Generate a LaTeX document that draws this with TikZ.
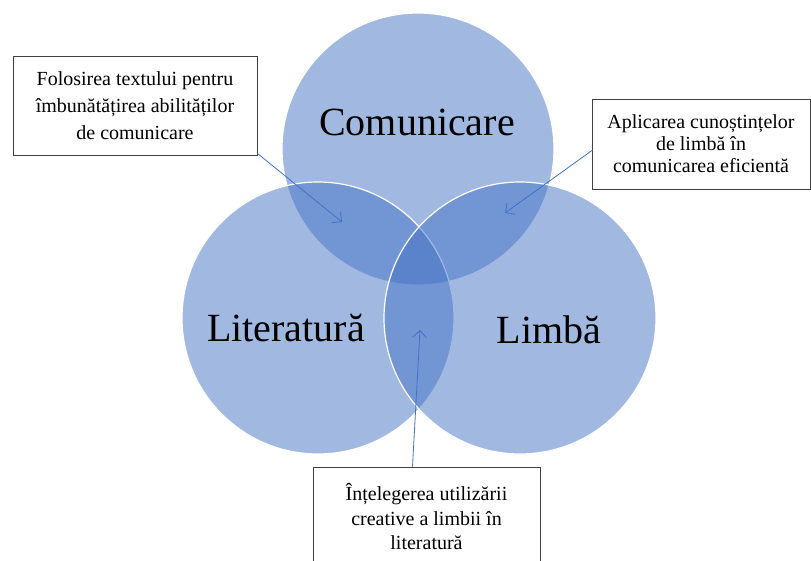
\documentclass[tikz,border=0pt]{standalone}
\usepackage{fontspec}
\setmainfont{Liberation Serif}
\usepackage{tikz}
\usetikzlibrary{arrows.meta,calc,positioning}
\definecolor{vennblue}{RGB}{68,114,196}
\tikzset{
	venn/.style={circle, minimum size=272pt, inner sep=0pt,
		fill=vennblue, fill opacity=.5, draw=white, line width=1.2pt},
	set name/.style={font=\fontsize{40}{48}\selectfont, inner sep=0pt},
	note/.style={draw=black!75, fill=white, line width=.8pt, align=center,
		inner sep=0pt, font=\fontsize{20}{24}\selectfont},
	ar/.style={draw=vennblue, line width=.8pt,
		-{Straight Barb[length=7pt,width=14pt]}}
}

\begin{document}
\begin{tikzpicture}[x=1pt,y=-1pt]
   \useasboundingbox (0,0) rectangle (811,560);
   % the three sets
   \node[venn] (com) at (418,149) {};
   \node[venn] (lit) at (318,318) {};
   \node[venn] (lim) at (520,318) {};
   \node[set name] (comname) at (417,122) {Comunicare};
   \node[set name] (litname) at (286,328) {Literatură};
   \node[set name] (limname) at (549,330) {Limbă};
   % notes
   \node[note, minimum width=244pt, minimum height=99pt,
      font=\fontsize{20}{27}\selectfont] (comlit) at (135,105.5)
      {Folosirea textului pentru\\ îmbunătățirea abilităților\\ de comunicare};
   \node[note, minimum width=218pt, minimum height=90pt,
      font=\fontsize{20}{22}\selectfont] (comlim) at (701,144)
      {Aplicarea cunoștințelor\\ de limbă în\\ comunicarea eficientă};
   \node[note, minimum width=227pt, minimum height=99pt] (litlim) at (426.5,516.5)
      {Înțelegerea utilizării\\ creative a limbii în\\ literatură};
   \coordinate (tipA) at (342,222);
   \coordinate (tipB) at (505,213);
   \coordinate (tipC) at (420,330);
   \draw[ar] ($(comlit.south east)+(0,-2)$) -- (tipA);
   \draw[ar] ($(comlim.west)+(1,6)$) -- (tipB);
   \draw[ar] ($(litlim.north)+(-14,0)$) -- (tipC);
\end{tikzpicture}
\end{document}
